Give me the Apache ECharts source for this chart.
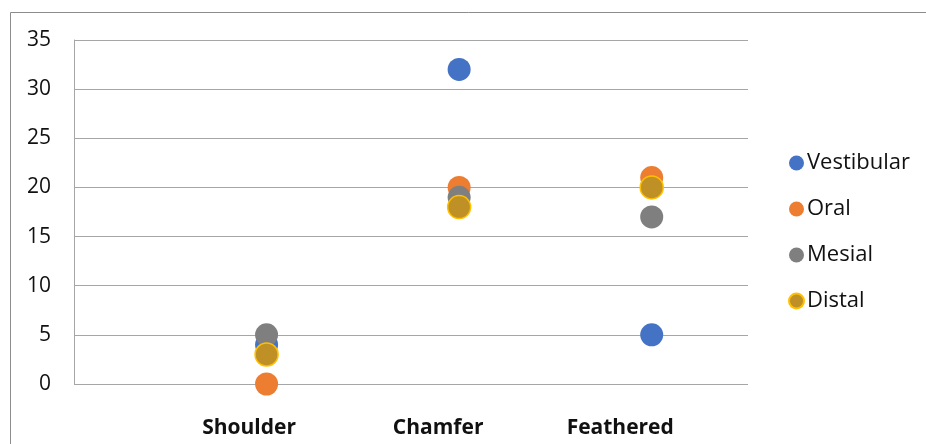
<!DOCTYPE html>
<html>
<head>
<meta charset="utf-8">
<script src="https://cdn.jsdelivr.net/npm/echarts@6/dist/echarts.min.js"></script>
<style>
  html, body { margin: 0; padding: 0; background: #fff; }
  #chart { width: 926px; height: 444px; }
</style>
</head>
<body>
<div id="chart"></div>
<script>
// Margin preparation types, placed at x = 1, 2, 3
const categories = ['Shoulder', 'Chamfer', 'Feathered'];
const categoryX = [1, 2, 3];

// Measured values per surface
const vestibular = [4, 32, 5];
const oral = [0, 20, 21];
const mesial = [5, 19, 17];
const distal = [3, 18, 20];

const yTicks = [0, 5, 10, 15, 20, 25, 30, 35];

const FONT = '"Open Sans", Lato, sans-serif';

// Category captions sit a little left of their marker column
const captionShift = [35, 42, 63];

function pairs(values) {
  return values.map((v, i) => [categoryX[i], v]);
}

function seriesOf(name, values, color, border) {
  return {
    name: name,
    type: 'scatter',
    symbol: 'circle',
    symbolSize: 23,
    data: pairs(values),
    itemStyle: {
      color: color,
      borderColor: border || color,
      borderWidth: border ? 1.5 : 0,
      opacity: 1
    },
    emphasis: { disabled: true }
  };
}

const captionRich = {};
categories.forEach((c, i) => {
  captionRich['c' + i] = {
    fontFamily: FONT,
    fontWeight: 'bold',
    fontSize: 21,
    color: '#111',
    padding: [0, captionShift[i], 0, 0]
  };
});

const chart = echarts.init(document.getElementById('chart'), null, { renderer: 'canvas' });

chart.setOption({
  animation: false,
  backgroundColor: '#ffffff',
  graphic: [{
    type: 'rect',
    shape: { x: 10.5, y: 12.5, width: 1200, height: 1200 },
    style: { fill: 'none', stroke: '#8c8c8c', lineWidth: 1 },
    silent: true
  }],
  grid: { left: 74, right: 178, top: 40, bottom: 60, containLabel: false },
  xAxis: {
    type: 'value',
    min: 0,
    max: 3.5,
    interval: 0.5,
    axisLine: { show: false },
    axisTick: { show: false },
    splitLine: { show: false },
    axisLabel: {
      margin: 34,
      fontFamily: FONT,
      fontWeight: 'bold',
      fontSize: 21,
      color: '#111',
      showMinLabel: true,
      showMaxLabel: true,
      rich: captionRich,
      formatter: function (v) {
        const i = categoryX.indexOf(v);
        return i >= 0 ? '{c' + i + '|' + categories[i] + '}' : '';
      }
    }
  },
  yAxis: {
    type: 'value',
    min: yTicks[0],
    max: yTicks[yTicks.length - 1],
    interval: 5,
    axisLine: { show: true, lineStyle: { color: '#a6a6a6', width: 1 } },
    axisTick: { show: false },
    splitLine: { show: true, lineStyle: { color: '#a6a6a6', width: 1 } },
    axisLabel: {
      margin: 23,
      fontFamily: FONT,
      fontSize: 21,
      color: '#111'
    }
  },
  legend: {
    orient: 'vertical',
    left: 783,
    top: 147,
    itemWidth: 15,
    itemHeight: 15,
    itemGap: 24,
    icon: 'circle',
    textStyle: { fontFamily: FONT, fontSize: 22, color: '#111', padding: [0, 0, 0, -2] },
    data: ['Vestibular', 'Oral', 'Mesial', 'Distal']
  },
  series: [
    seriesOf('Vestibular', vestibular, '#4472c4'),
    seriesOf('Oral', oral, '#ed7d31'),
    seriesOf('Mesial', mesial, '#7f7f7f'),
    seriesOf('Distal', distal, '#bf9026', '#ffc000')
  ]
});
</script>
</body>
</html>
